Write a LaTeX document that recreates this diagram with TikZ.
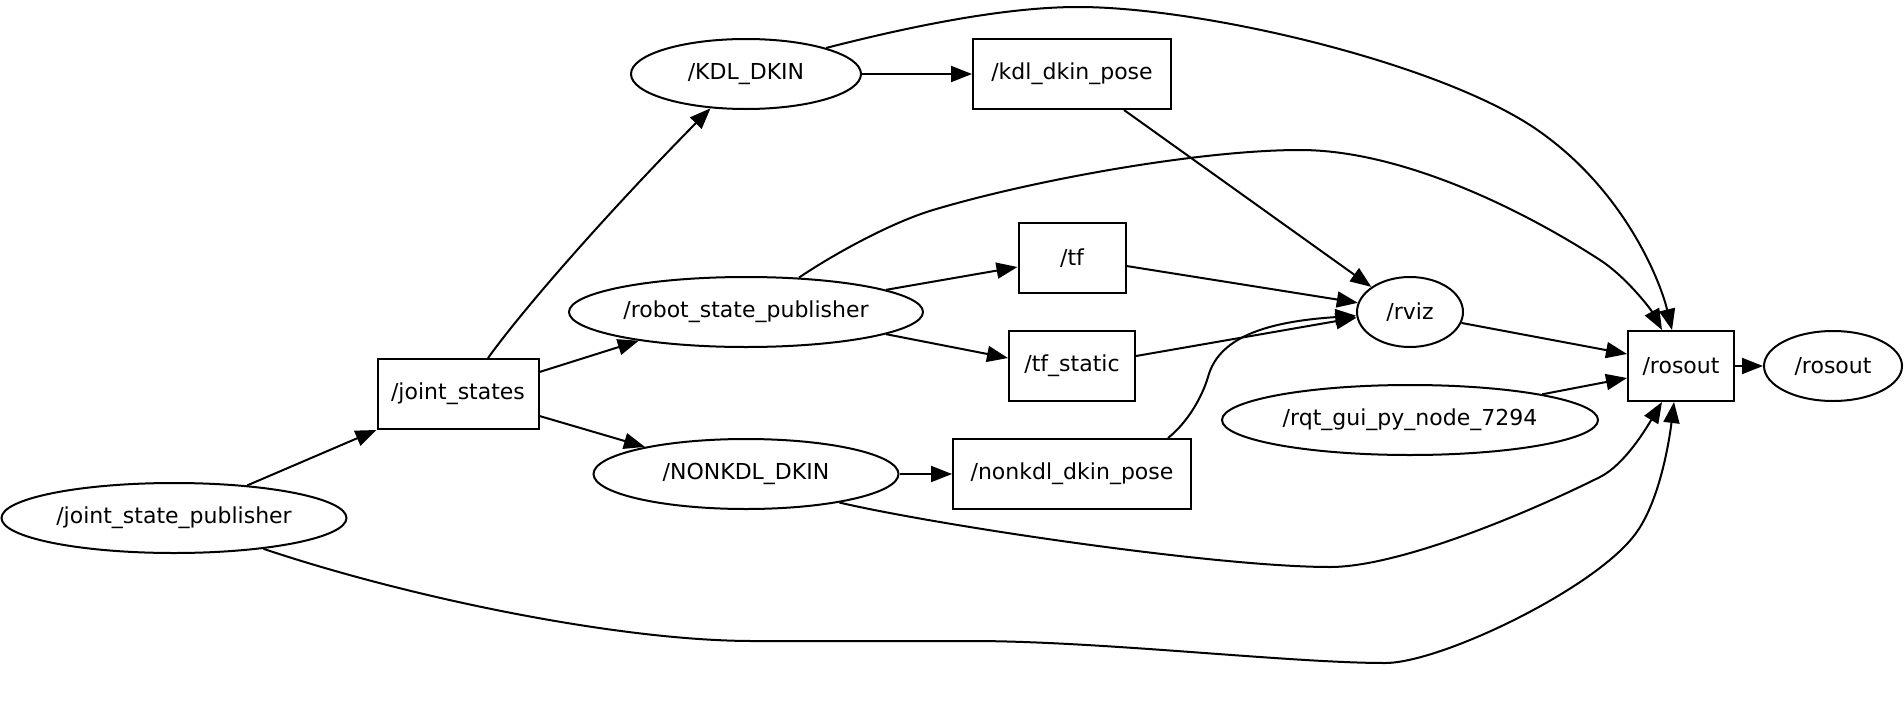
\documentclass[tikz,border=0pt]{standalone}
\usepackage{fontspec}
\setmainfont{DejaVu Sans}
\usetikzlibrary{shapes.geometric,arrows.meta}
\begin{document}
\begin{tikzpicture}[x=1pt,y=-1pt,
  base/.style={draw, line width=2pt, font=\fontsize{22}{26}\selectfont, minimum height=70pt, inner sep=0pt},
  topic/.style={base, rectangle},
  proc/.style={base, ellipse},
  edge/.style={line width=2pt, -{Triangle[length=21pt,width=16pt]}}]
\useasboundingbox (0,0) rectangle (1904,723);
% nodes
\node[proc, minimum width=230pt] (kdl) at (746,74) {/KDL\_DKIN};
\node[topic, minimum width=198pt] (kdlpose) at (1072,74) {/kdl\_dkin\_pose};
\node[proc, minimum width=354pt] (rsp) at (746,312) {/robot\_state\_publisher};
\node[topic, minimum width=107pt] (tf) at (1072,258) {/tf};
\node[topic, minimum width=126pt] (tfs) at (1072,366) {/tf\_static};
\node[proc, minimum width=106pt] (rviz) at (1410,312) {/rviz};
\node[topic, minimum width=106pt] (rosoutT) at (1681,366) {/rosout};
\node[proc, minimum width=138pt] (rosoutN) at (1833,366) {/rosout};
\node[proc, minimum width=376pt] (rqt) at (1410,420) {/rqt\_gui\_py\_node\_7294};
\node[topic, minimum width=161pt] (js) at (458,394) {/joint\_states};
\node[proc, minimum width=305pt] (nonkdl) at (746,474) {/NONKDL\_DKIN};
\node[topic, minimum width=238pt] (nonkdlpose) at (1072,474) {/nonkdl\_dkin\_pose};
\node[proc, minimum width=345pt] (jsp) at (174,518) {/joint\_state\_publisher};
% edges
\draw[edge] (jsp.24) -- (js.south west);
\draw[edge] ([xshift=30pt]js.north) .. controls (530,300) and (620,200) .. (kdl.224);
\draw[edge] ([yshift=22pt]js.east) -- (rsp.195);
\draw[edge] ([yshift=-22pt]js.east) -- (nonkdl.165);
\draw[edge] (kdl.east) -- (kdlpose.west);
\draw[edge] (kdl.18) .. controls (900,29) and (1000,7) .. (1078,7)
  .. controls (1200,7) and (1433,61) .. (1533,127)
  .. controls (1623,187) and (1660,280) .. ([xshift=-9pt]rosoutT.north);
\draw[edge] ([xshift=52pt]kdlpose.south) -- (rviz.147);
\draw[edge] (rsp.33) .. controls (837,252) and (893,222) .. (933,210)
  .. controls (1033,180) and (1200,150) .. (1300,150)
  .. controls (1400,150) and (1520,208) .. (1600,260)
  .. controls (1625,276) and (1650,308) .. ([xshift=-19pt]rosoutT.north);
\draw[edge] (rsp.9) -- ([yshift=-9pt]tf.west);
\draw[edge] (rsp.351) -- ([yshift=8pt]tfs.west);
\draw[edge] ([yshift=-8pt]tf.east) -- (rviz.170);
\draw[edge] ([yshift=10pt]tfs.east) -- (rviz.186);
\draw[edge] ([xshift=96pt]nonkdlpose.north) .. controls (1188,422) and (1202,397) .. (1208,377)
  .. controls (1218,340) and (1260,322) .. (rviz.184);
\draw[edge] (nonkdl.east) -- (nonkdlpose.west);
\draw[edge] (nonkdl.343) .. controls (938,525.5) and (1216,567) .. (1330,567)
  .. controls (1400,567) and (1530,512) .. (1600,477)
  .. controls (1625,464.5) and (1647,427) .. ([xshift=-19pt]rosoutT.south);
\draw[edge] (jsp.341) .. controls (410,598) and (620,641) .. (753,641) -- (971,641)
  .. controls (1100,641) and (1290,663) .. (1385,663)
  .. controls (1440,663) and (1590,591) .. (1633,537)
  .. controls (1658.6,506) and (1669,443) .. ([xshift=-7pt]rosoutT.south);
\draw[edge] (rviz.348) -- ([yshift=12pt]rosoutT.west);
\draw[edge] (rqt.11) -- ([yshift=-12pt]rosoutT.west);
\draw[edge] (rosoutT.east) -- (rosoutN.west);
\end{tikzpicture}
\end{document}
